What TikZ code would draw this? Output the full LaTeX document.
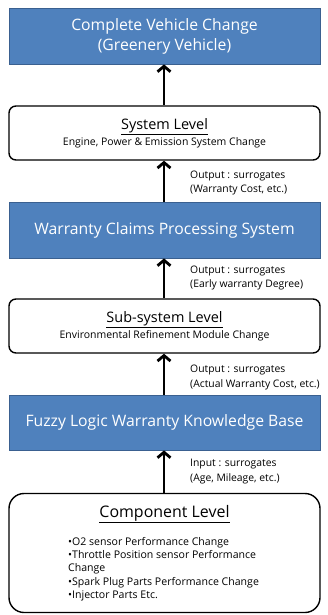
\documentclass[tikz,border=0pt]{standalone}
\usepackage{fontspec}
\setmainfont{Open Sans}
\usepackage{tikz}
\usetikzlibrary{arrows.meta,positioning}
\definecolor{boxblue}{HTML}{4F81BD}
\definecolor{edgeblue}{HTML}{3A6090}
\tikzset{
  bluebox/.style={draw=edgeblue,line width=0.8bp,fill=boxblue,text=white,
    minimum width=311bp,align=center,inner sep=0pt,
    font=\fontsize{15.8}{20}\selectfont},
  levelbox/.style={draw=black,line width=1.4bp,rounded corners=7bp,fill=white,
    minimum width=311bp,minimum height=54bp,align=center,inner sep=0pt},
  uparrow/.style={line width=2.8bp,-{Straight Barb[length=5.5bp,width=13bp]}},
  flowlabel/.style={anchor=west,align=left,inner sep=0pt,
    font=\fontsize{10.4}{14.5}\selectfont},
}
\newcommand{\leveltitle}[1]{{\fontsize{14.5}{16}\selectfont\underline{#1}}}
\newcommand{\levelsub}[1]{{\fontsize{10.5}{12}\selectfont #1}}

\begin{document}
\begin{tikzpicture}[x=1bp,y=-1bp]
  \useasboundingbox (0,0) rectangle (327,615);
  % boxes
  \node[bluebox,minimum height=56bp] (vehicle) at (164.5,36)
    {Complete Vehicle Change\\(Greenery Vehicle)};
  \node[levelbox] (system) at (164.5,133)
    {\leveltitle{System Level}\\[1.5bp]\levelsub{Engine, Power \& Emission System Change}};
  \node[bluebox,minimum height=56bp] (claims) at (164.5,230)
    {Warranty Claims Processing System};
  \node[levelbox] (subsystem) at (164.5,326)
    {\leveltitle{Sub-system Level}\\[1.5bp]\levelsub{Environmental Refinement Module Change}};
  \node[bluebox,minimum height=55bp] (fuzzy) at (164.5,422.5)
    {Fuzzy Logic Warranty Knowledge Base};
  \node[levelbox,rounded corners=15bp,minimum height=119bp] (component) at (164.5,553) {};
  \node[below=12bp of component.north,inner sep=0pt,
    font=\fontsize{16}{18}\selectfont] (comptitle) {\underline{Component Level}};
  \node[anchor=north west,align=left,inner sep=0pt,
    font=\fontsize{10.6}{13.4}\selectfont] (compparts) at (68,537)
    {•O2 sensor Performance Change\\
     •Throttle Position sensor Performance\\
     Change\\
     •Spark Plug Parts Performance Change\\
     •Injector Parts Etc.};
  % arrows
  \draw[uparrow] (system.north -| 164,0) -- (vehicle.south -| 164,0);
  \draw[uparrow] (claims.north -| 164,0) -- (system.south -| 164,0);
  \draw[uparrow] (subsystem.north -| 164,0) -- (claims.south -| 164,0);
  \draw[uparrow] (fuzzy.north -| 164,0) -- (subsystem.south -| 164,0);
  \draw[uparrow] (component.north -| 164,0) -- (fuzzy.south -| 164,0);
  % labels
  \node[flowlabel] (lblcost) at (190,183) {Output : surrogates\\(Warranty Cost, etc.)};
  \node[flowlabel] (lbldegree) at (190,278) {Output : surrogates\\(Early warranty Degree)};
  \node[flowlabel] (lblactual) at (190,377.5) {Output : surrogates\\(Actual Warranty Cost, etc.)};
  \node[flowlabel] (lblinput) at (190,471.5) {Input : surrogates\\(Age, Mileage, etc.)};
\end{tikzpicture}
\end{document}
